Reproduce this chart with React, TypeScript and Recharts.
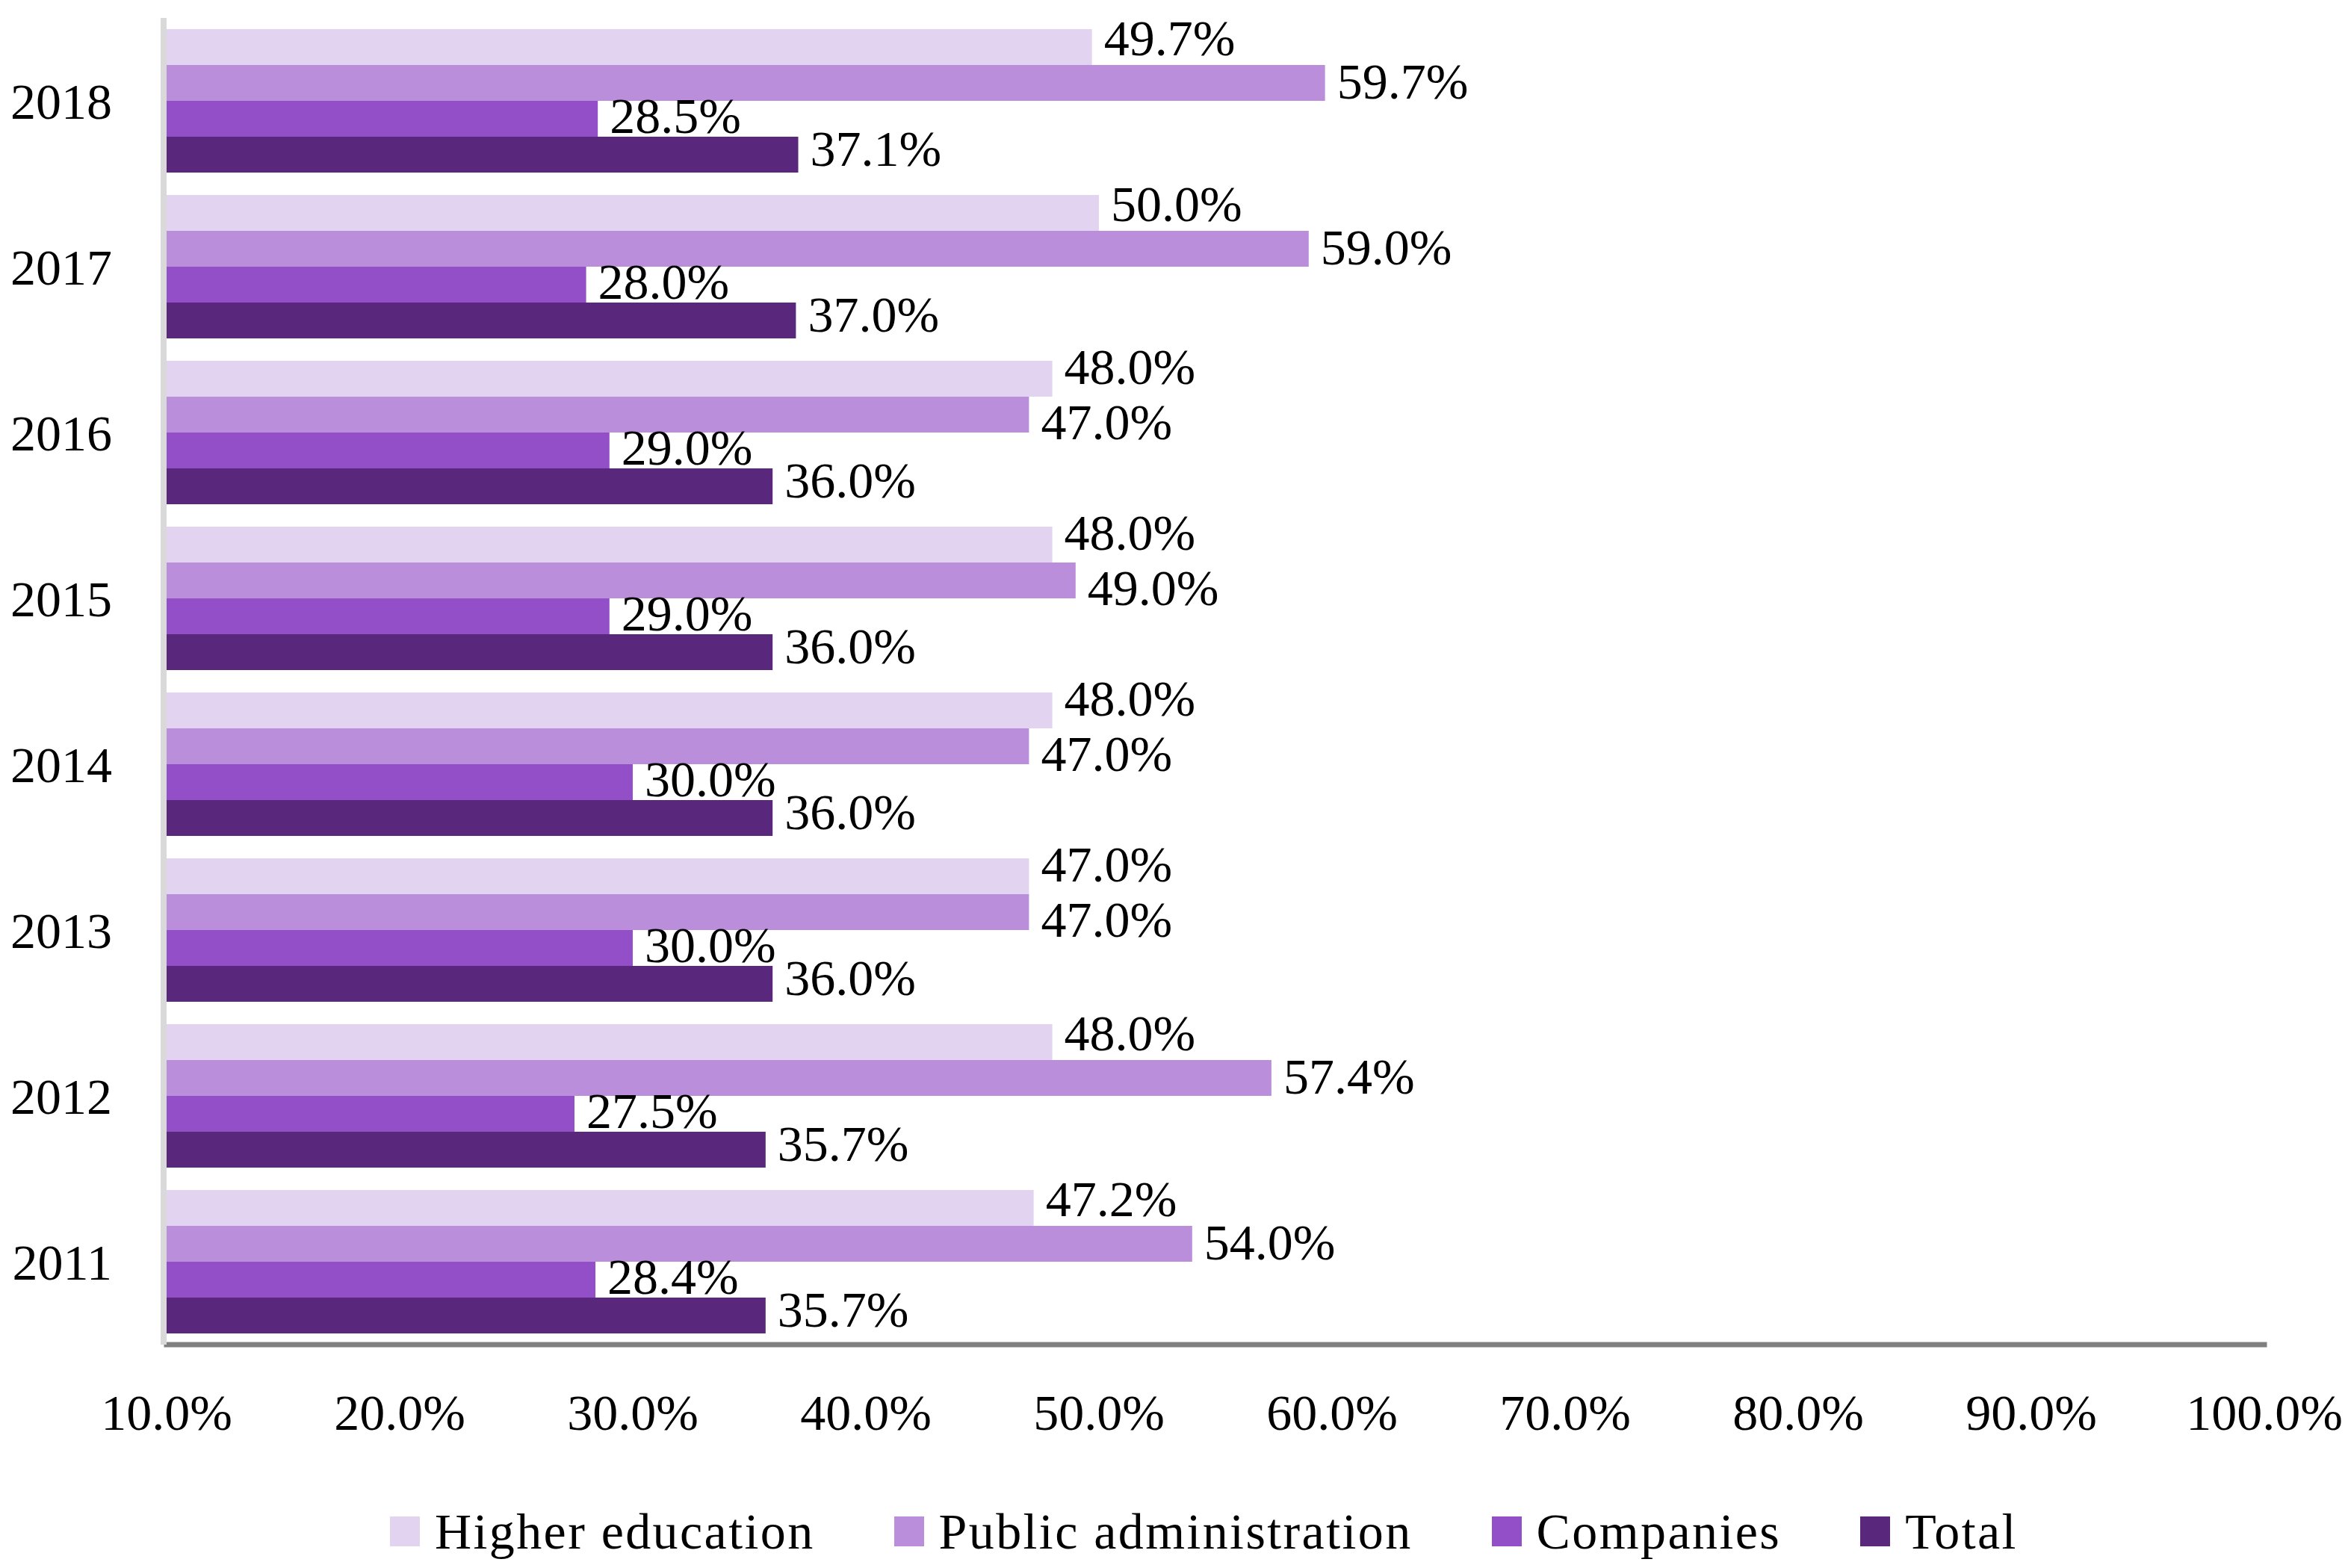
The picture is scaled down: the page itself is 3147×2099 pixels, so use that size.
import React from "react";
import { BarChart, Bar, XAxis, YAxis, Legend, LabelList } from "recharts";

const years = ["2018", "2017", "2016", "2015", "2014", "2013", "2012", "2011"];
const higherEducation = [49.7, 50.0, 48.0, 48.0, 48.0, 47.0, 48.0, 47.2];
const publicAdministration = [59.7, 59.0, 47.0, 49.0, 47.0, 47.0, 57.4, 54.0];
const companies = [28.5, 28.0, 29.0, 29.0, 30.0, 30.0, 27.5, 28.4];
const total = [37.1, 37.0, 36.0, 36.0, 36.0, 36.0, 35.7, 35.7];
const xTicks = [10, 20, 30, 40, 50, 60, 70, 80, 90, 100];

const FONT = "'Liberation Serif', 'Times New Roman', serif";

const series = [
  { key: "he", name: "Higher education", color: "#E2D3F0" },
  { key: "pa", name: "Public administration", color: "#BA8EDB" },
  { key: "co", name: "Companies", color: "#934FC7" },
  { key: "to", name: "Total", color: "#59287D" },
];

const data = years.map((year, i) => ({
  year,
  he: higherEducation[i],
  pa: publicAdministration[i],
  co: companies[i],
  to: total[i],
}));

const pct = (v: number) => `${Number(v).toFixed(1)}%`;

// nudge labels apart when the two upper bars end close together (like Excel does)
function labelShift(key: string, i: number) {
  const close = Math.abs(publicAdministration[i] - higherEducation[i]) < 6;
  if (key === "he") return close ? -16 : -12;
  if (key === "pa") return close ? 10 : -2;
  if (key === "co") return -4;
  return -8;
}

function makeLabel(key: string) {
  return (props: any) => {
    const { x, y, width, height, value, index } = props;
    return (
      <text
        x={Number(x) + Number(width) + 16}
        y={Number(y) + Number(height) / 2 + labelShift(key, index)}
        fontSize={68}
        fontFamily={FONT}
        fill="#000"
        textAnchor="start"
        dominantBaseline="central"
      >
        {pct(value)}
      </text>
    );
  };
}

function LegendBox() {
  return (
    <div
      style={{
        height: 82,
        display: "flex",
        alignItems: "center",
        paddingLeft: 514,
        fontFamily: FONT,
        fontSize: 68,
        letterSpacing: 2.4,
        color: "#000",
      }}
    >
      {series.map((s) => (
        <div key={s.key} style={{ display: "flex", alignItems: "center", marginRight: 106 }}>
          <span style={{ width: 40, height: 40, background: s.color, marginRight: 20, display: "inline-block" }} />
          <span style={{ lineHeight: "82px" }}>{s.name}</span>
        </div>
      ))}
    </div>
  );
}

export default function App() {
  return (
    <div style={{ width: 3131, height: 2083, background: "#fff" }}>
      <BarChart
        width={3131}
        height={2083}
        data={data}
        layout="vertical"
        margin={{ top: 16, right: 108, left: 0, bottom: 0 }}
        barCategoryGap={15}
        barGap={0}
      >
        <XAxis
          type="number"
          domain={[10, 100]}
          ticks={xTicks}
          tickFormatter={pct}
          height={209}
          tickSize={0}
          tickMargin={66}
          tickLine={false}
          axisLine={{ stroke: "#808080", strokeWidth: 7, strokeLinecap: "square" }}
          tick={{ fontSize: 68, fontFamily: FONT, fill: "#000" }}
          interval={0}
        />
        <YAxis
          type="category"
          dataKey="year"
          width={215}
          tickSize={0}
          tickMargin={73}
          tickLine={false}
          axisLine={{ stroke: "#D9D9D9", strokeWidth: 8, transform: "translate(-4,0)" }}
          tick={{ fontSize: 68, fontFamily: FONT, fill: "#000" }}
          interval={0}
        />
        <Legend verticalAlign="bottom" content={() => <LegendBox />} />
        {series.map((s) => (
          <Bar key={s.key} dataKey={s.key} name={s.name} fill={s.color} isAnimationActive={false}>
            <LabelList dataKey={s.key} content={makeLabel(s.key)} />
          </Bar>
        ))}
      </BarChart>
    </div>
  );
}
